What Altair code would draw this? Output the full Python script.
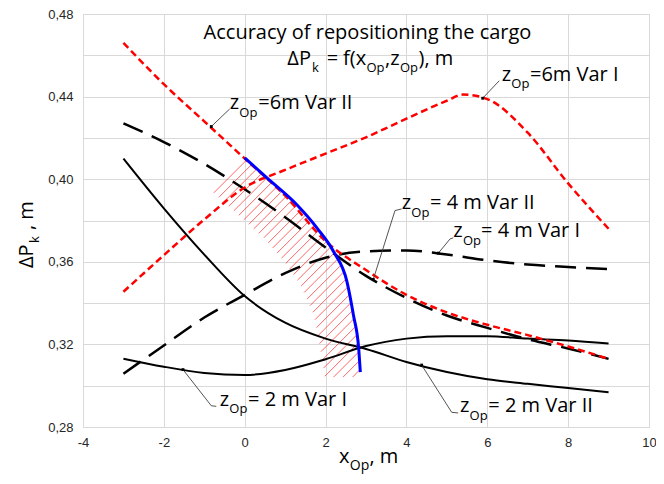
import altair as alt
import pandas as pd

# ---------------- data ----------------
X = [-3, -2, -1, 0, 1, 2, 3, 4, 5, 6, 7, 8, 9]

# z_Op = 6 m (red, short dashes)
z6_var2 = [0.466, 0.446, 0.428, 0.410, 0.392, 0.370, 0.356, 0.344, 0.3355, 0.3295, 0.3245, 0.319, 0.313]
z6_var1_x = [-3, -2, -1, 0, 1, 2, 3, 4, 5, 5.4, 6, 7, 8, 9]
z6_var1 = [0.3455, 0.3632, 0.3805, 0.396, 0.4045, 0.4124, 0.4203, 0.4293, 0.438, 0.441, 0.4388, 0.4225, 0.398, 0.376]

# z_Op = 4 m (black, long dashes)
z4_var2 = [0.427, 0.418, 0.4074, 0.3951, 0.3816, 0.3669, 0.3532, 0.3425, 0.334, 0.328, 0.3225, 0.318, 0.313]
z4_var1 = [0.3058, 0.3195, 0.333, 0.344, 0.3545, 0.362, 0.365, 0.3655, 0.3635, 0.3607, 0.3587, 0.3575, 0.3565]

# z_Op = 2 m (black, solid)
z2_var2 = [0.410, 0.3859, 0.3635, 0.3434, 0.3305, 0.3228, 0.3178, 0.3115, 0.3066, 0.3031, 0.3009, 0.2989, 0.2968]
z2_var1 = [0.3131, 0.3092, 0.3062, 0.3052, 0.3076, 0.3128, 0.3192, 0.3228, 0.324, 0.324, 0.3228, 0.3219, 0.3204]

# boundary (blue)
blue_x = [0.0, 0.55, 1.29, 1.79, 2.2, 2.53, 2.69, 2.82, 2.86]
blue_y = [0.4103, 0.4006, 0.3876, 0.3763, 0.3649, 0.3503, 0.3341, 0.3179, 0.3066]

# leader lines of the annotations: (series label, points in data units)
leaders = [
    ("6m Var II", [(-0.827, 0.4255), (-0.372, 0.434)]),
    ("6m Var I", [(5.886, 0.4392), (6.297, 0.4477)]),
    ("4m Var II", [(3.18, 0.3515), (3.717, 0.3848), (3.88, 0.3856)]),
    ("4m Var I", [(4.79, 0.3642), (5.08, 0.3711), (5.16, 0.3716)]),
    ("2m Var II", [(4.377, 0.3100), (5.12, 0.2871), (5.28, 0.2868)]),
    ("2m Var I", [(-1.527, 0.3078), (-0.827, 0.2903), (-0.703, 0.2900)]),
]

# ---------------- geometry ----------------
W, H = 566, 413
XMIN, XMAX, YMIN, YMAX = -4, 10, 0.28, 0.48
OX, OY = 83, 14  # page position of the plot origin


def to_px(x, y):
    return ((x - XMIN) / (XMAX - XMIN) * W, (YMAX - y) / (YMAX - YMIN) * H)


def to_data(px, py):
    return (XMIN + px / W * (XMAX - XMIN), YMAX - py / H * (YMAX - YMIN))


xs = alt.Scale(domain=[XMIN, XMAX], nice=False, zero=False)
ys = alt.Scale(domain=[YMIN, YMAX], nice=False, zero=False)

x_axis = alt.Axis(values=list(range(-4, 11, 2)), grid=True, gridColor="#d9d9d9", gridWidth=1,
                  domain=False, ticks=False, labelPadding=9, labelFont="Liberation Sans",
                  labelFontSize=13, labelColor="#262626", title=None, labelFlush=False,
                  labelExpr="datum.value < 0 ? '-' + abs(datum.value) : '' + datum.value")
y_axis = alt.Axis(values=[round(0.28 + 0.02 * i, 2) for i in range(11)], grid=True,
                  gridColor="#d9d9d9", gridWidth=1, domain=False, ticks=False, labelPadding=10,
                  labelFont="Liberation Sans", labelFontSize=13, labelColor="#262626", title=None,
                  labelExpr="abs(round(datum.value*100) % 4) == 0 ? replace(format(datum.value, '.2f'), '.', ',') : ''")


def long(xv, yv, name):
    return pd.DataFrame({"x": xv, "y": yv, "s": name})


red_df = pd.concat([long(X, z6_var2, "6II"), long(z6_var1_x, z6_var1, "6I")])
dash_df = pd.concat([long(X, z4_var2, "4II"), long(X, z4_var1, "4I")])
solid_df = pd.concat([long(X, z2_var2, "2II"), long(X, z2_var1, "2I")])
blue_df = pd.DataFrame({"x": blue_x, "y": blue_y, "o": list(range(len(blue_x)))})

# hatch lines (pattern derived from the blue boundary)
bpx = [to_px(a, b) for a, b in zip(blue_x, blue_y)]
cs = [p[0] + p[1] for p in bpx]
clip_py = bpx[-1][1] + 5
rows = []
c = cs[0] + 4
while c <= cs[-1]:
    for i in range(len(cs) - 1):
        if cs[i] <= c <= cs[i + 1]:
            t = (c - cs[i]) / (cs[i + 1] - cs[i])
            px = bpx[i][0] + t * (bpx[i + 1][0] - bpx[i][0])
            py = bpx[i][1] + t * (bpx[i + 1][1] - bpx[i][1])
            break
    L = 33
    if py + L > clip_py:
        L = max(clip_py - py, 0)
    x1, y1 = to_data(px, py)
    x2, y2 = to_data(px - L, py + L)
    rows.append({"x": x1, "y": y1, "x2": x2, "y2": y2})
    c += 9.5
hatch_df = pd.DataFrame(rows)

lead_rows = []
dot_rows = []
for name, pts in leaders:
    for k, (a, b) in enumerate(pts):
        lead_rows.append({"x": a, "y": b, "s": name, "o": k})
    dot_rows.append({"x": pts[0][0], "y": pts[0][1]})
lead_df = pd.DataFrame(lead_rows)
dot_df = pd.DataFrame(dot_rows)

base_enc = dict(x=alt.X("x:Q", scale=xs, axis=x_axis), y=alt.Y("y:Q", scale=ys, axis=y_axis))

hatch = alt.Chart(hatch_df).mark_rule(color="#ff4040", strokeWidth=0.8).encode(
    x=alt.X("x:Q", scale=xs, axis=x_axis), y=alt.Y("y:Q", scale=ys, axis=y_axis), x2="x2:Q", y2="y2:Q")

solid = alt.Chart(solid_df).mark_line(color="#000000", strokeWidth=2, interpolate="monotone").encode(
    detail="s:N", **base_enc)
dashed = alt.Chart(dash_df).mark_line(color="#000000", strokeWidth=2.5, strokeDash=[21, 10],
                                      interpolate="monotone").encode(detail="s:N", **base_enc)
red = alt.Chart(red_df).mark_line(color="#ff0000", strokeWidth=2.5, strokeDash=[7, 4],
                                  interpolate="monotone").encode(detail="s:N", **base_enc)
blue = alt.Chart(blue_df).mark_line(color="#0000ff", strokeWidth=3, interpolate="monotone").encode(
    order="o:Q", **base_enc)
lead = alt.Chart(lead_df).mark_line(color="#404040", strokeWidth=0.9).encode(
    detail="s:N", order="o:Q", **base_enc)
dots = alt.Chart(dot_df).mark_point(shape="square", filled=True, size=8, color="#000000", opacity=1).encode(**base_enc)

FONT = "Open Sans"
one = pd.DataFrame({"a": [0]})


def seg(text, px, py, size, angle=0):
    return alt.Chart(one).mark_text(text=text, font=FONT, fontSize=size, align="left",
                                    baseline="alphabetic", angle=angle, color="#000000").encode(
        x=alt.value(px - OX), y=alt.value(py - OY))


texts = []
# title
texts.append(alt.Chart(one).mark_text(text="Accuracy of repositioning the cargo", font=FONT, fontSize=20,
                                      align="center", baseline="alphabetic", color="#000000").encode(
    x=alt.value(367.5 - OX), y=alt.value(39 - OY)))
B, S = 65, 71.5
texts += [seg("ΔP", 287.3, B, 20), seg("k", 312, S, 13), seg("=", 326.7, B, 20), seg("f(x", 343, B, 20),
          seg("Op", 366.5, S, 13), seg(",z", 385, B, 20), seg("Op", 400, S, 13), seg("), m", 418.5, B, 20)]

# curve annotations: (z x, Op x, rest x, baseline, rest text)
ann = [
    (229.7, 239.3, 258.3, 109.0, "=6m Var II"),
    (501.7, 511.3, 530.0, 80.7, "=6m Var I"),
    (401.7, 411.3, 430.0, 209.0, "= 4 m Var II"),
    (453.3, 462.9, 481.0, 237.3, "= 4 m Var I"),
    (460.0, 469.6, 488.3, 412.3, "= 2 m Var II"),
    (219.7, 229.3, 248.0, 405.7, "= 2 m Var I"),
]
for zx, ox, rx, bl, rest in ann:
    texts += [seg("z", zx, bl, 20), seg("Op", ox, bl + 7.5, 13), seg(rest, rx, bl, 20)]

# axis titles
texts += [seg("x", 339, 463, 20), seg("Op", 349.8, 469.5, 14), seg(", m", 369.5, 463, 20)]
texts += [seg("ΔP", 33, 268, 20, 270), seg("k", 38.5, 243, 13, 270), seg(", m", 33, 230, 20, 270)]

chart = alt.layer(hatch, solid, dashed, red, blue, lead, dots, *texts).properties(
    width=W, height=H, autosize=alt.AutoSizeParams(type="none"),
    padding={"left": 75, "top": 6, "right": 7, "bottom": 48},
).configure_view(stroke="#595959", strokeWidth=1.3).configure(background="white")

chart.save("out.html", embed_options={"renderer": "svg", "actions": False})
